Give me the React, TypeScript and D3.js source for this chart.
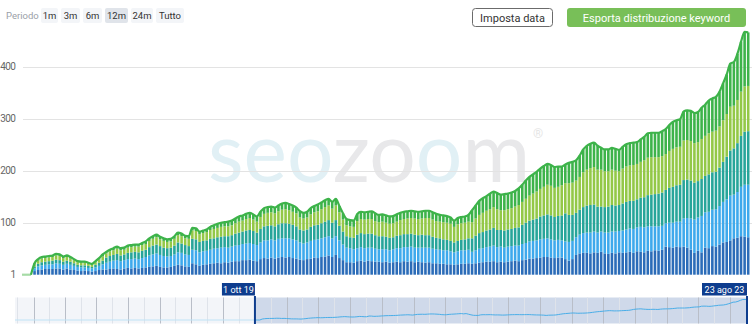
import React, { useEffect } from 'react';
import * as d3 from 'd3';

// ---- categories / dates ----
const firstWeek = new Date(2019, 9, 1);
const lastDay = new Date(2023, 7, 23);
const navigatorStart = new Date(2017, 10, 8);
const weekCount = 203;

const periodButtons = ['1m', '3m', '6m', '12m', '24m', 'Tutto'];
const selectedPeriod = '12m';
const yTicks = [1, 100, 200, 300, 400];

const seriesKeys = ['kw1', 'kw2', 'kw3', 'kw4', 'kw5'];
const seriesColors = ['#2b6cb8', '#3ea9ec', '#27a59a', '#93c847', '#3db34a'];

// ---- series values (bottom to top) ----
const kw1 = [0, 0, 0,
  7, 9, 10, 11, 11, 11, 12, 12, 10, 12, 10, 9, 8, 7, 8, 7, 6, 7, 9, 10,
  10, 11, 12, 11, 10, 12, 13, 12, 13, 12, 13, 14, 15, 16, 17, 15, 14, 14, 15, 17, 19, 18, 16, 15, 22, 20, 17, 19, 20, 21,
  22, 23, 22, 24, 23, 25, 26, 26, 28, 28, 29, 27, 26, 30, 32, 31, 33, 31, 33, 34, 33, 34, 32, 31, 29, 28, 30, 31, 33, 32, 34, 35, 37, 34, 38, 32, 28, 24, 24, 23,
  26, 27, 25, 27, 26, 25, 25, 24, 25, 23, 24, 25, 24, 26, 25, 26, 24, 25, 24, 23, 24, 22, 22, 21, 21, 20, 20, 19, 20, 21, 21, 22,
  21, 22, 23, 24, 25, 25, 26, 24, 25, 24, 25, 26, 27, 26, 28, 29, 31, 31, 32, 33, 34, 34, 33, 32, 33, 33,
  30, 27, 30, 38, 41, 42, 42, 41, 43, 42, 44, 41, 40, 42, 41, 43, 42, 43, 44, 42, 45, 44, 43, 46, 45, 47, 46, 48, 54, 53,
  52, 54, 53, 54, 52, 48, 42, 46, 43, 52, 51, 55, 54, 58, 62, 63, 66, 70, 71, 74, 73, 72];
const kw2 = [0, 0, 0,
  5, 7, 8, 8, 9, 9, 10, 9, 9, 9, 9, 8, 7, 7, 6, 6, 6, 7, 8, 10,
  13, 14, 15, 17, 16, 16, 17, 18, 18, 18, 19, 20, 22, 23, 24, 23, 22, 21, 21, 22, 24, 24, 23, 23, 26, 27, 26, 26, 26, 27,
  28, 28, 30, 29, 29, 29, 30, 31, 31, 32, 32, 32, 31, 32, 34, 35, 35, 35, 36, 36, 37, 36, 36, 35, 33, 32, 32, 34, 34, 36, 36, 37, 37, 36, 36, 34, 30, 28, 27, 26,
  25, 26, 26, 25, 26, 25, 24, 25, 24, 24, 25, 26, 27, 27, 28, 28, 28, 27, 28, 29, 28, 28, 27, 27, 26, 27, 25, 24, 25, 26, 26, 26,
  23, 25, 27, 27, 28, 29, 30, 29, 29, 28, 29, 29, 29, 30, 31, 32, 33, 34, 34, 35, 35, 36, 35, 34, 34, 33,
  34, 36, 35, 34, 36, 38, 39, 40, 40, 39, 39, 40, 41, 41, 42, 41, 43, 44, 45, 46, 46, 48, 48, 47, 48, 46, 47, 46, 45, 47,
  48, 48, 49, 54, 57, 60, 64, 64, 70, 68, 70, 70, 72, 74, 78, 82, 86, 84, 88, 95, 100, 101];
const kw3 = [0, 0, 0,
  4, 5, 6, 6, 6, 7, 7, 7, 6, 6, 6, 5, 4, 4, 4, 4, 3, 5, 6, 7,
  10, 11, 11, 12, 11, 11, 12, 13, 13, 13, 14, 14, 16, 17, 17, 17, 16, 16, 16, 17, 19, 18, 18, 17, 21, 21, 20, 20, 20, 21,
  20, 21, 21, 21, 22, 22, 23, 24, 24, 25, 25, 25, 24, 26, 27, 28, 27, 27, 28, 29, 29, 28, 28, 27, 25, 25, 25, 27, 28, 28, 29, 30, 31, 30, 31, 28, 25, 22, 21, 22,
  26, 27, 27, 27, 27, 26, 25, 25, 24, 24, 23, 24, 25, 25, 25, 25, 25, 24, 25, 24, 24, 23, 22, 22, 21, 20, 20, 19, 20, 20, 21, 22,
  26, 28, 30, 31, 32, 33, 34, 33, 32, 33, 33, 33, 34, 35, 37, 39, 40, 41, 42, 44, 45, 46, 46, 45, 46, 48,
  54, 52, 50, 47, 48, 50, 52, 53, 52, 50, 48, 49, 50, 51, 50, 50, 52, 53, 53, 54, 54, 56, 58, 60, 61, 62, 63, 64, 64, 67,
  69, 70, 71, 74, 74, 73, 71, 70, 71, 70, 72, 72, 72, 74, 77, 82, 87, 89, 94, 98, 102, 103];
const kw4 = [0, 0, 0,
  4, 6, 7, 7, 7, 7, 8, 8, 7, 7, 6, 6, 5, 5, 5, 4, 4, 5, 6, 8,
  8, 9, 9, 10, 10, 9, 10, 10, 10, 11, 11, 11, 12, 13, 14, 13, 13, 12, 12, 13, 14, 14, 13, 14, 16, 16, 15, 15, 16, 17,
  18, 18, 19, 19, 19, 19, 20, 21, 21, 22, 23, 22, 21, 23, 24, 25, 25, 25, 25, 26, 27, 26, 25, 25, 23, 23, 23, 24, 25, 26, 27, 28, 28, 27, 28, 26, 23, 21, 21, 21,
  26, 27, 28, 28, 28, 27, 27, 28, 27, 27, 27, 27, 29, 29, 30, 30, 31, 31, 31, 33, 33, 33, 32, 32, 33, 33, 33, 30, 32, 32, 32, 32,
  31, 33, 35, 37, 38, 39, 40, 40, 38, 39, 39, 40, 41, 43, 44, 46, 48, 50, 52, 53, 55, 57, 57, 56, 56, 58,
  58, 61, 62, 62, 63, 67, 69, 71, 72, 71, 71, 69, 68, 68, 67, 65, 67, 68, 68, 69, 68, 69, 71, 72, 72, 71, 70, 70, 69, 71,
  73, 73, 73, 76, 76, 76, 76, 75, 77, 77, 79, 78, 79, 79, 80, 82, 84, 82, 83, 85, 87, 87];
const kw5 = [0, 0, 0,
  2, 3, 3, 3, 3, 3, 3, 3, 3, 3, 3, 2, 2, 2, 2, 2, 2, 2, 3, 4,
  3, 3, 4, 4, 4, 4, 4, 4, 4, 4, 4, 5, 5, 5, 5, 5, 5, 5, 5, 5, 5, 5, 5, 5, 5, 5, 5, 5, 5, 6,
  7, 8, 8, 8, 9, 9, 9, 10, 10, 10, 10, 10, 10, 10, 11, 11, 11, 11, 11, 12, 12, 12, 12, 11, 12, 11, 11, 12, 12, 13, 13, 13, 13, 13, 13, 12, 12, 12, 12, 12,
  14, 14, 14, 14, 15, 15, 14, 14, 14, 14, 14, 14, 14, 14, 14, 14, 14, 14, 14, 14, 14, 14, 14, 13, 13, 13, 12, 12, 12, 12, 12, 13,
  23, 25, 27, 28, 28, 30, 30, 31, 30, 31, 30, 30, 30, 32, 33, 35, 36, 37, 38, 39, 40, 40, 40, 40, 39, 36,
  36, 39, 40, 39, 41, 44, 46, 47, 47, 46, 42, 42, 42, 42, 42, 41, 42, 43, 43, 43, 42, 43, 45, 47, 47, 47, 47, 48, 48, 50,
  52, 52, 53, 56, 57, 58, 58, 58, 60, 60, 63, 64, 65, 67, 71, 76, 83, 84, 89, 96, 105, 103];

const itLocale = d3.timeFormatLocale({
  dateTime: '%A %e %B %Y, %X', date: '%d/%m/%Y', time: '%H:%M:%S', periods: ['AM', 'PM'],
  days: ['domenica', 'lunedì', 'martedì', 'mercoledì', 'giovedì', 'venerdì', 'sabato'],
  shortDays: ['dom', 'lun', 'mar', 'mer', 'gio', 'ven', 'sab'],
  months: ['gennaio', 'febbraio', 'marzo', 'aprile', 'maggio', 'giugno', 'luglio', 'agosto', 'settembre', 'ottobre', 'novembre', 'dicembre'],
  shortMonths: ['gen', 'feb', 'mar', 'apr', 'mag', 'giu', 'lug', 'ago', 'set', 'ott', 'nov', 'dic'],
});
const fmt = itLocale.format('%-d %b %y');

const W = 752, H = 327;
const FONT = 'Roboto, "Noto Sans", sans-serif';

export default function App() {
  useEffect(() => { document.body.style.margin = '0'; }, []);

  const dates = d3.range(weekCount).map((i) => d3.timeDay.offset(firstWeek, 7 * i));
  const rows = dates.map((d, i) => ({ date: d, kw1: kw1[i], kw2: kw2[i], kw3: kw3[i], kw4: kw4[i], kw5: kw5[i] }));
  const stacked = d3.stack<any>().keys(seriesKeys)(rows);
  const totals = rows.map((r) => r.kw1 + r.kw2 + r.kw3 + r.kw4 + r.kw5);

  const x = d3.scaleBand<number>().domain(d3.range(weekCount)).range([22, 750]).padding(0);
  const bw = x.bandwidth();
  const y = d3.scaleLinear().domain([0, 470]).range([274.7, 30.3]);

  const firstData = totals.findIndex((t) => t > 0);
  const topLine = d3.line<number>()
    .x((_, i) => (x(i + firstData - 1) as number) + bw / 2)
    .y((t) => y(t))
    .curve(d3.curveMonotoneX);
  const topPts = totals.slice(firstData - 1);

  // navigator
  const nx = d3.scaleTime().domain([navigatorStart, lastDay]).range([15, 748]);
  const ny = d3.scaleLinear().domain([0, d3.max(totals) as number]).range([320, 299.5]);
  const selX0 = nx(firstWeek);
  const selX1 = nx(lastDay);
  const quarterLines = d3.timeMonth.every(3)!.range(navigatorStart, lastDay).filter((d) => d.getMonth() % 3 === 0);
  const midLines = quarterLines.map((d) => d3.timeDay.offset(d3.timeMonth.offset(d, -1), -16)).concat([d3.timeDay.offset(d3.timeMonth.offset(quarterLines[quarterLines.length - 1], 2), -16)]);
  const navLine = d3.line<[Date, number]>().x((d) => nx(d[0])).y((d) => ny(d[1])).curve(d3.curveLinear);
  const navPts: [Date, number][] = dates.map((d, i) => [d, totals[i]]);
  navPts[navPts.length - 1] = [lastDay, totals[totals.length - 1]];

  // button layout
  const btnW = [17, 19, 19, 23, 22, 28];
  let bx = 41;
  const btns = periodButtons.map((p, i) => {
    const b = { label: p, x: bx, w: btnW[i] };
    bx += btnW[i] + 3;
    return b;
  });

  return (
    <svg width={W} height={H} style={{ position: 'absolute', left: 0, top: 0, fontFamily: FONT }}>
      <rect width={W} height={H} fill="#fff" />
      {/* watermark */}
      <text x={208} y={182} fontSize={84} fontFamily="Lato, sans-serif" fontWeight={400} textLength={322} lengthAdjust="spacingAndGlyphs">
        <tspan fill="#e1f0f5">seo</tspan>
        <tspan fill="#e8e8ea">zo</tspan>
        <tspan fill="#e1f0f5">o</tspan>
        <tspan fill="#e8e8ea">m</tspan>
      </text>
      <text x={533} y={138} fontSize={13} fill="#e6e6e6">®</text>

      {/* grid + y labels */}
      {yTicks.map((t) => (
        <g key={t}>
          {t > 1 && <line x1={23} x2={752} y1={Math.round(y(t)) + 0.5} y2={Math.round(y(t)) + 0.5} stroke="#e3e3e3" />}
          <text x={15.5} y={y(t) + 3.5} textAnchor="end" fontSize={10} letterSpacing={-0.5} fill="#666">{t}</text>
        </g>
      ))}

      {/* bars */}
      {stacked.map((s, si) => (
        <g key={s.key} fill={seriesColors[si]}>
          {s.map((d, i) => (d[1] - d[0] > 0 ? (
            <rect key={i} x={(x(i) as number) + 0.5} width={bw - 1} y={y(d[1])} height={y(d[0]) - y(d[1])} />
          ) : null))}
        </g>
      ))}

      {/* top outline */}
      <line x1={22} x2={(x(firstData - 1) as number) + bw / 2} y1={y(0)} y2={y(0)} stroke="#a6dba6" strokeWidth={2.2} />
      <path d={topLine(topPts) || ''} fill="none" stroke="#3db34a" strokeWidth={2.2} strokeLinejoin="round" />

      {/* navigator */}
      <rect x={15} y={297.5} width={selX0 - 15} height={26} fill="#f3f5f9" />
      <rect x={selX0} y={297.5} width={selX1 - selX0} height={26} fill="#cfd9ea" />
      {midLines.map((d, i) => (
        <line key={'m' + i} x1={Math.round(nx(d)) + 0.5} x2={Math.round(nx(d)) + 0.5} y1={297.5} y2={323.5} stroke="#dfe3ea" />
      ))}
      {quarterLines.map((d, i) => (
        <line key={'q' + i} x1={Math.round(nx(d)) + 0.5} x2={Math.round(nx(d)) + 0.5} y1={297.5} y2={323.5} stroke="#b9bec8" />
      ))}
      <line x1={15} x2={selX0} y1={ny(0)} y2={ny(0)} stroke="#bfe3f6" strokeWidth={1} />
      <path d={navLine(navPts) || ''} fill="none" stroke="#4aaee8" strokeWidth={1} />
      <line x1={selX0} x2={selX0} y1={296} y2={324} stroke="#0e3d8e" strokeWidth={2} />
      <line x1={selX1 - 1} x2={selX1 - 1} y1={296} y2={324} stroke="#0e3d8e" strokeWidth={2} />
      <rect x={selX0 - 33} y={283} width={33} height={12.5} fill="#0e3d8e" />
      <text x={selX0 - 16.5} y={292.5} textAnchor="middle" fontSize={9} fill="#fff">{fmt(firstWeek)}</text>
      <rect x={selX1 - 46} y={283} width={45} height={12.5} fill="#0e3d8e" />
      <text x={selX1 - 23.5} y={292.5} textAnchor="middle" fontSize={9} fill="#fff">{fmt(lastDay)}</text>

      {/* period buttons */}
      <text x={6} y={18.5} fontSize={9.5} fill="#9aa0a8">Periodo</text>
      {btns.map((b) => (
        <g key={b.label}>
          <rect x={b.x} y={8} width={b.w} height={15} rx={2} fill={b.label === selectedPeriod ? '#e0e4ea' : '#f3f5f8'} />
          <text x={b.x + b.w / 2} y={18.5} textAnchor="middle" fontSize={9.5} fill="#333">{b.label}</text>
        </g>
      ))}

      {/* right buttons */}
      <rect x={472.5} y={8.5} width={80} height={18} rx={3} fill="#fff" stroke="#6b6b6b" />
      <text x={512.5} y={21.5} textAnchor="middle" fontSize={11} fill="#333">Imposta data</text>
      <rect x={567} y={8} width={179} height={19} rx={3} fill="#78bf58" />
      <text x={656.5} y={21.5} textAnchor="middle" fontSize={11} fill="#fff">Esporta distribuzione keyword</text>
    </svg>
  );
}
